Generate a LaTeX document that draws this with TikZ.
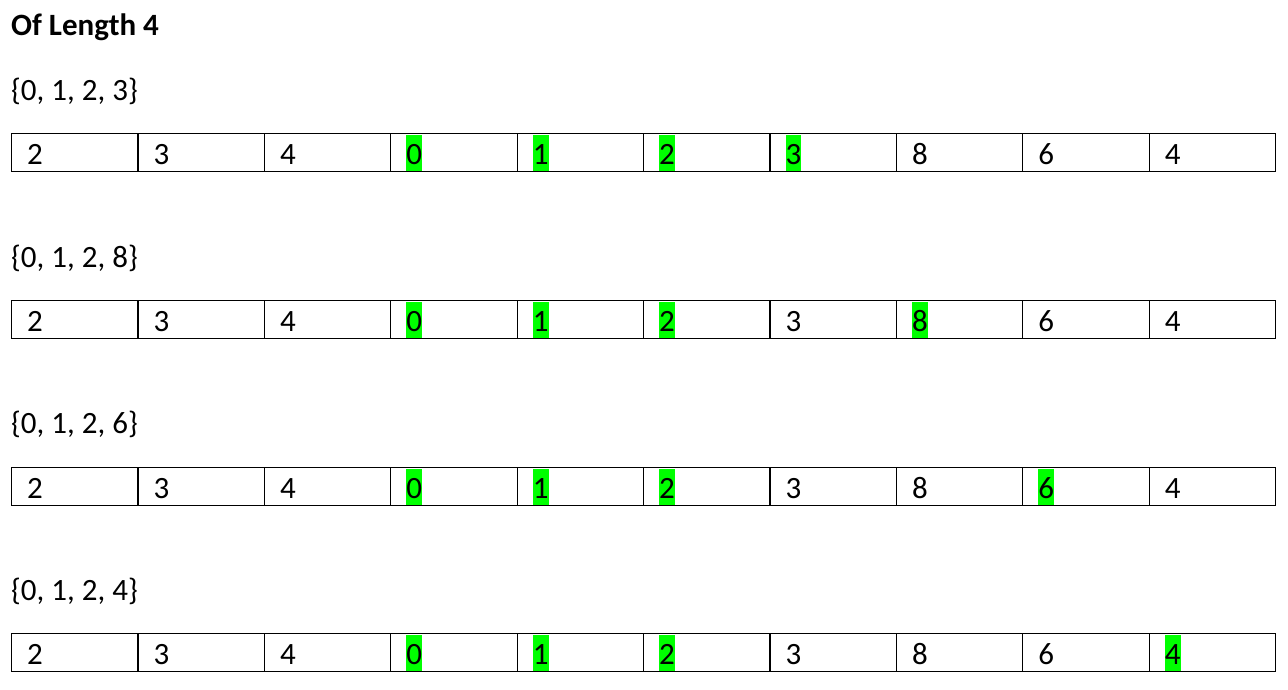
\documentclass[tikz,border=0pt]{standalone}
\usepackage{fontspec}
\setmainfont{Carlito}
\tikzset{
  txt/.style={font=\fontsize{31}{37}\selectfont, inner sep=0pt, anchor=base west},
  cell/.style={draw, line width=1.2pt, minimum width=126.4pt, minimum height=38pt, inner sep=0pt, anchor=north west},
  val/.style={font=\fontsize{31}{37}\selectfont, inner sep=0pt, text height=29.8pt, text depth=7pt, anchor=south west},
  hl/.style={val, fill=green}
}
\begin{document}
\begin{tikzpicture}[x=1pt,y=-1pt]
  \useasboundingbox (0,0) rectangle (1288,689);
  \node[txt, font=\fontsize{31}{37}\selectfont\bfseries] (title) at (11,35) {Of Length 4};

  % row 1
  \node[txt] (set1) at (11,100) {\{0, 1, 2, 3\}};
  \foreach \v/\s [count=\c from 0] in {2/val,3/val,4/val,0/hl,1/hl,2/hl,3/hl,8/val,6/val,4/val} {
    \node[cell] (r1c\c) at (11+126.4*\c,133) {};
    \node[\s] (v1c\c) at ([xshift=16pt,yshift=0.6pt]r1c\c.south west) {\v};
  }

  % row 2
  \node[txt] (set2) at (11,267) {\{0, 1, 2, 8\}};
  \foreach \v/\s [count=\c from 0] in {2/val,3/val,4/val,0/hl,1/hl,2/hl,3/val,8/hl,6/val,4/val} {
    \node[cell] (r2c\c) at (11+126.4*\c,300) {};
    \node[\s] (v2c\c) at ([xshift=16pt,yshift=0.6pt]r2c\c.south west) {\v};
  }

  % row 3
  \node[txt] (set3) at (11,433) {\{0, 1, 2, 6\}};
  \foreach \v/\s [count=\c from 0] in {2/val,3/val,4/val,0/hl,1/hl,2/hl,3/val,8/val,6/hl,4/val} {
    \node[cell] (r3c\c) at (11+126.4*\c,467) {};
    \node[\s] (v3c\c) at ([xshift=16pt,yshift=0.6pt]r3c\c.south west) {\v};
  }

  % row 4
  \node[txt] (set4) at (11,600) {\{0, 1, 2, 4\}};
  \foreach \v/\s [count=\c from 0] in {2/val,3/val,4/val,0/hl,1/hl,2/hl,3/val,8/val,6/val,4/hl} {
    \node[cell] (r4c\c) at (11+126.4*\c,633) {};
    \node[\s] (v4c\c) at ([xshift=16pt,yshift=0.6pt]r4c\c.south west) {\v};
  }
\end{tikzpicture}
\end{document}
